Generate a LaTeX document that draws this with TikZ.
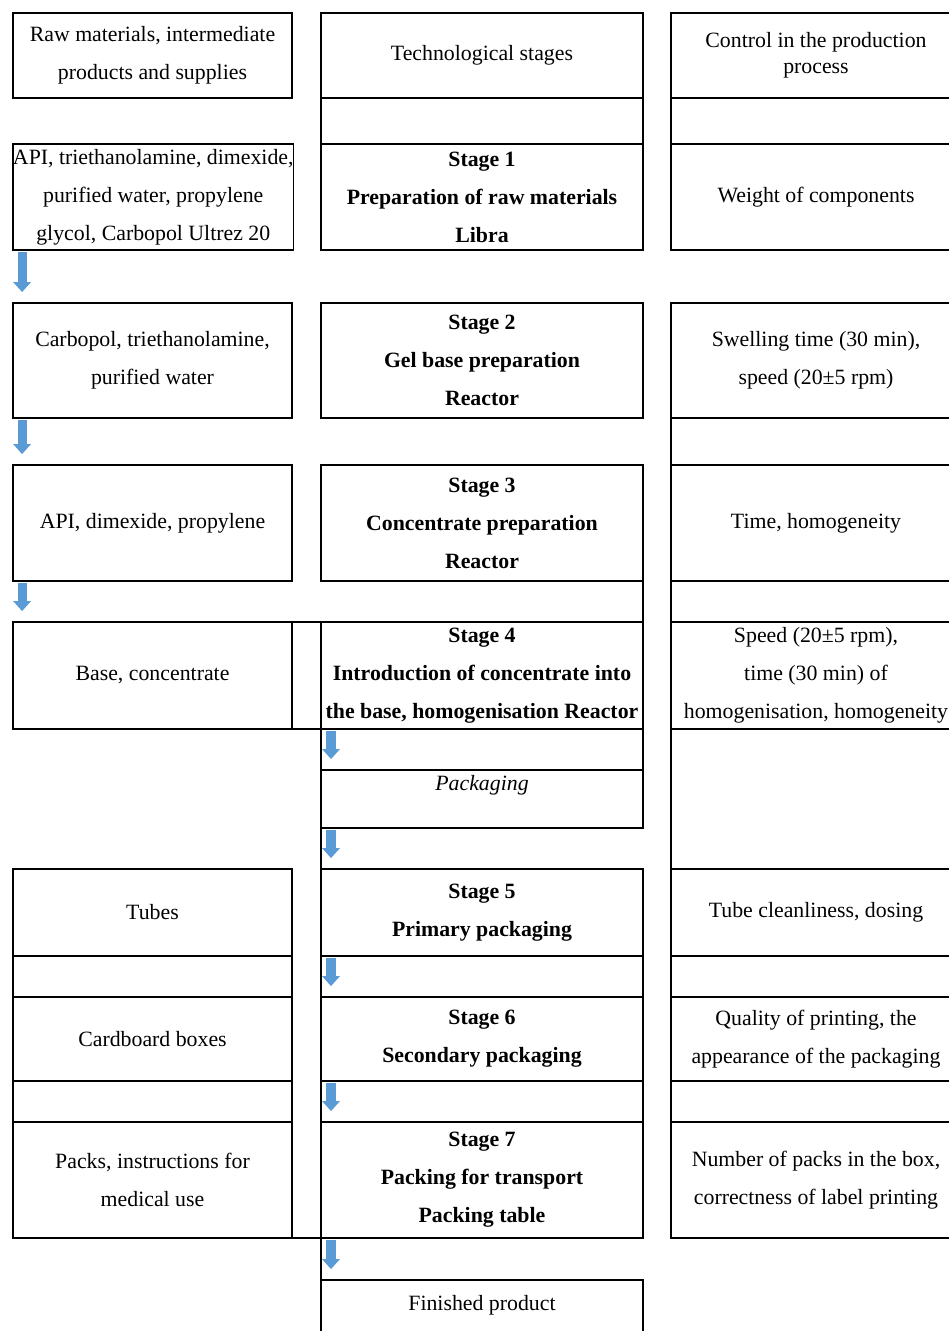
\documentclass[tikz,border=0pt]{standalone}
\usepackage{fontspec}
\setmainfont{Liberation Serif}
\usetikzlibrary{arrows.meta}
\definecolor{arrowblue}{RGB}{91,155,213}

\begin{document}
\begin{tikzpicture}[x=0.55pt, y=-0.55pt, line width=0.6pt,
	every node/.style={anchor=north west, inner sep=0pt, outer sep=0pt, align=center, font=\fontsize{12}{20.9}\selectfont},
	lcol/.style={draw, minimum width=153.45pt},
	mcol/.style={draw, minimum width=177.1pt},
	rcol/.style={draw, minimum width=159.5pt},
	stage/.style={font=\fontsize{12}{20.9}\selectfont\bfseries},
	flow/.style={arrowblue, line width=5pt, -{Triangle[width=9.5pt,length=5.5pt]}, shorten <=1pt, shorten >=6pt}]
	\useasboundingbox (0,0) rectangle (949,1331);

	\node[lcol, minimum height=46.75pt] (l0) at (13,13) {Raw materials, intermediate\\products and supplies};
	\node[mcol, minimum height=46.75pt] (m0) at (321,13) {Technological stages};
	\node[rcol, minimum height=46.75pt, font=\fontsize{12}{14.3}\selectfont] (r0) at (671,13) {Control in the production\\process};

	\node[mcol, minimum height=25.3pt] (m01) at (321,98) {};
	\node[rcol, minimum height=25.3pt] (r01) at (671,98) {};

	\node[lcol, minimum height=58.3pt] (l1) at (13,144) {API, triethanolamine, dimexide,\\purified water, propylene\\glycol, Carbopol Ultrez 20};
	\node[mcol, stage, minimum height=58.3pt] (m1) at (321,144) {Stage 1\\Preparation of raw materials\\Libra};
	\node[rcol, minimum height=58.3pt] (r1) at (671,144) {Weight of components};

	\node[lcol, minimum height=63.25pt] (l2) at (13,303) {Carbopol, triethanolamine,\\purified water};
	\node[mcol, stage, minimum height=63.25pt] (m2) at (321,303) {Stage 2\\Gel base preparation\\Reactor};
	\node[rcol, minimum height=63.25pt] (r2) at (671,303) {Swelling time (30 min),\\speed (20±5 rpm)};

	\node[rcol, minimum height=25.85pt] (r23) at (671,418) {};

	\node[lcol, minimum height=63.8pt] (l3) at (13,465) {API, dimexide, propylene};
	\node[mcol, stage, minimum height=63.8pt] (m3) at (321,465) {Stage 3\\Concentrate preparation\\Reactor};
	\node[rcol, minimum height=63.8pt] (r3) at (671,465) {Time, homogeneity};

	\node[rcol, minimum height=22.55pt] (r34) at (671,581) {};

	\node[lcol, minimum height=58.85pt] (l4) at (13,622) {Base, concentrate};
	\node[mcol, stage, minimum height=58.85pt] (m4) at (321,622) {Stage 4\\Introduction of concentrate into\\the base, homogenisation Reactor};
	\node[rcol, minimum height=58.85pt] (r4) at (671,622) {Speed (20±5 rpm),\\time (30 min) of\\homogenisation, homogeneity};
	\draw (l4.north east) -- (m4.north west);
	\draw (l4.south east) -- (m4.south west);
	\draw (m3.south east) -- (m4.north east);

	\node[mcol, minimum height=22.55pt] (m45) at (321,729) {};
	\node[mcol, minimum height=31.9pt] (pack) at (321,770) {};
	\node[anchor=north] (packlabel) at ([yshift=-3pt]pack.north) {\itshape Packaging};
	\node[rcol, minimum height=77pt] (r45) at (671,729) {};

	\node[lcol, minimum height=47.85pt] (l5) at (13,869) {Tubes};
	\node[mcol, stage, minimum height=47.85pt] (m5) at (321,869) {Stage 5\\Primary packaging};
	\node[rcol, minimum height=47.85pt] (r5) at (671,869) {Tube cleanliness, dosing};
	\draw (pack.south west) -- (m5.north west);

	\node[lcol, minimum height=22.55pt] (l56) at (13,956) {};
	\node[mcol, minimum height=22.55pt] (m56) at (321,956) {};
	\node[rcol, minimum height=22.55pt] (r56) at (671,956) {};

	\node[lcol, minimum height=46.2pt] (l6) at (13,997) {Cardboard boxes};
	\node[mcol, stage, minimum height=46.2pt] (m6) at (321,997) {Stage 6\\Secondary packaging};
	\node[rcol, minimum height=46.2pt] (r6) at (671,997) {Quality of printing, the\\appearance of the packaging};

	\node[lcol, minimum height=22.55pt] (l67) at (13,1081) {};
	\node[mcol, minimum height=22.55pt] (m67) at (321,1081) {};
	\node[rcol, minimum height=22.55pt] (r67) at (671,1081) {};

	\node[lcol, minimum height=63.8pt] (l7) at (13,1122) {Packs, instructions for\\medical use};
	\node[mcol, stage, minimum height=63.8pt] (m7) at (321,1122) {Stage 7\\Packing for transport\\Packing table};
	\node[rcol, minimum height=63.8pt] (r7) at (671,1122) {Number of packs in the box,\\correctness of label printing};
	\draw (l7.south east) -- (m7.south west);

	\node[minimum width=177.1pt, minimum height=28.05pt] (fin) at (321,1280) {Finished product};
	\draw (fin.south west) -- (fin.north west) -- (fin.north east) -- (fin.south east);
	\draw (m7.south west) -- (fin.north west);

	\draw[flow] ([xshift=5pt]l1.south west) -- ([xshift=5pt]l2.north west);
	\draw[flow] ([xshift=5pt]l2.south west) -- ([xshift=5pt]l3.north west);
	\draw[flow] ([xshift=5pt]l3.south west) -- ([xshift=5pt]l4.north west);
	\draw[flow] ([xshift=5.5pt]m4.south west) -- ([xshift=5.5pt]pack.north west);
	\draw[flow] ([xshift=5.5pt]pack.south west) -- ([xshift=5.5pt]m5.north west);
	\draw[flow] ([xshift=5.5pt]m5.south west) -- ([xshift=5.5pt]m6.north west);
	\draw[flow] ([xshift=5.5pt]m6.south west) -- ([xshift=5.5pt]m7.north west);
	\draw[flow] ([xshift=5.5pt]m7.south west) -- ([xshift=5.5pt]fin.north west);
\end{tikzpicture}
\end{document}
